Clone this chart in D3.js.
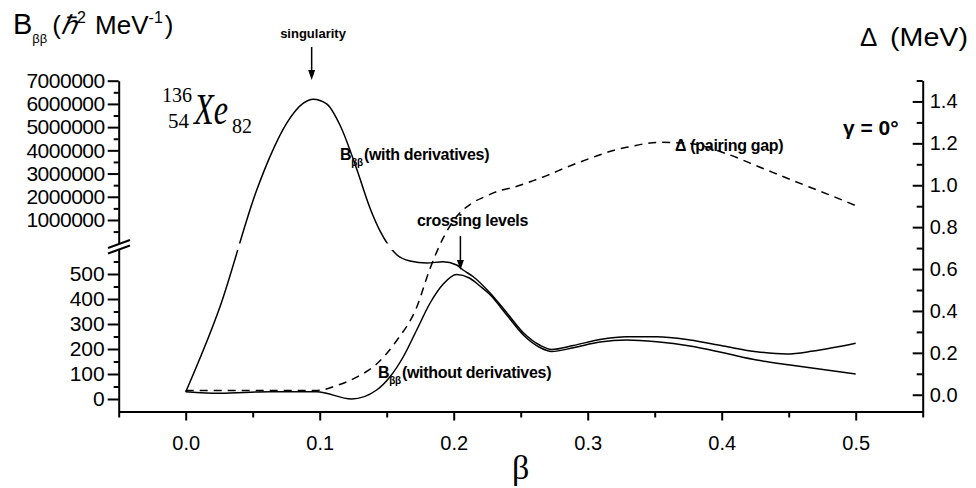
<!DOCTYPE html>
<html>
<head>
<meta charset="utf-8">
<script src="https://cdn.jsdelivr.net/npm/d3@7"></script>
<style>
body { margin: 0; background: #fff; }
svg text { font-family: "Liberation Sans", Arial, sans-serif; fill: #000; }
svg .serif { font-family: "Liberation Serif", "Times New Roman", serif; }
</style>
</head>
<body>
<script>
// B_bb with derivatives (lower part in units, upper part up to the singularity)
var betaWith = [0, 0.0256, 0.053, 0.0629, 0.0754, 0.0878, 0.0952, 0.1052, 0.1151, 0.1271, 0.1375, 0.145,
    0.1577, 0.1674, 0.18, 0.192, 0.2022, 0.207, 0.2144, 0.227, 0.2396, 0.252, 0.2647, 0.2731, 0.2893,
    0.3092, 0.329, 0.3515, 0.3763, 0.4012, 0.4261, 0.4485, 0.4684, 0.5];
var bWith = [28, 369, 2290000, 3730000, 5170000, 6030000, 6200000, 6000000, 5090000, 3280000, 1520000, 530000,
    576, 552, 544, 549, 536, 516, 490, 425, 345, 265, 214, 198, 214,
    238, 249, 249, 236, 212, 189, 180, 192, 223];

// B_bb without derivatives
var betaWithout = [0, 0.0254, 0.0628, 0.0977, 0.1238, 0.1425, 0.1525, 0.1624, 0.1724, 0.1823, 0.1922, 0.2022,
    0.2117, 0.2196, 0.227, 0.2396, 0.252, 0.2647, 0.2731, 0.2893, 0.3092, 0.329, 0.3515, 0.3763, 0.4012,
    0.4261, 0.451, 0.5];
var bWithout = [29, 23, 29, 29, 0, 36, 89, 169, 276, 383, 460, 498,
    484, 452, 418, 336, 256, 205, 190, 205, 228, 236, 229, 212, 185,
    156, 136, 100];

// pairing gap (MeV), right axis
var betaGap = [0, 0.0975, 0.1127, 0.1276, 0.1425, 0.1575, 0.1724, 0.1823, 0.192, 0.2022, 0.2121, 0.2234,
    0.2346, 0.2445, 0.2594, 0.2694, 0.2843, 0.3042, 0.3191, 0.3291, 0.354, 0.3764, 0.4037, 0.4286,
    0.4534, 0.4784, 0.5];
var gapValues = [0.02, 0.02, 0.044, 0.084, 0.147, 0.259, 0.418, 0.602, 0.746, 0.851, 0.908, 0.946,
    0.975, 0.99, 1.022, 1.046, 1.086, 1.134, 1.166, 1.181, 1.205, 1.199, 1.15, 1.086,
    1.022, 0.959, 0.903];

// tick values
var xTickValues = [0, 0.1, 0.2, 0.3, 0.4, 0.5];
var xMinorTicks = [-0.05, 0.05, 0.15, 0.25, 0.35, 0.45, 0.55];
var lowTicks = [0, 100, 200, 300, 400, 500];
var lowMinorTicks = [50, 150, 250, 350, 450, 550];
var highTicks = [1000000, 2000000, 3000000, 4000000, 5000000, 6000000, 7000000];
var highMinorTicks = [500000, 1500000, 2500000, 3500000, 4500000, 5500000, 6500000];
var gapTicks = [0, 0.2, 0.4, 0.6, 0.8, 1.0, 1.2, 1.4];
var gapMinorTicks = [0.1, 0.3, 0.5, 0.7, 0.9, 1.1, 1.3, 1.5];

var svg = d3.select("body").append("svg")
    .attr("width", 976)
    .attr("height", 488);

var x = d3.scaleLinear().domain([-0.05, 0.55]).range([118.7, 922.7]);
//broken left axis: two linear pieces
var yLow = d3.scaleLinear().domain([-50, 598]).range([411.5, 249.5]);
var yHigh = d3.scaleLinear().domain([0, 7000000]).range([243.2, 80.7]);
var yGap = d3.scaleLinear().domain([-0.08, 1.5]).range([411.5, 80.5]);

function yB(v) {
    if (v <= 598) {
        return yLow(v);
    }
    return yHigh(v);
}

function styleAxis(g, size) {
    g.attr("font-family", "Liberation Sans, Arial, sans-serif")
        .attr("font-size", size);
    g.selectAll("path, line")
        .attr("stroke", "#000")
        .attr("stroke-width", 2);
}

function minor(axis, translate) {
    var g = svg.append("g")
        .attr("transform", translate)
        .call(axis.tickFormat(""));
    g.select(".domain").remove();
    styleAxis(g, 20);
}

// bottom axis
var gx = svg.append("g")
    .attr("transform", "translate(0,411.5)")
    .call(d3.axisBottom(x).tickValues(xTickValues).tickSize(9).tickSizeOuter(0)
        .tickPadding(15).tickFormat(d3.format(".1f")));
styleAxis(gx, 20);
minor(d3.axisBottom(x).tickValues(xMinorTicks).tickSize(6), "translate(0,411.5)");

// left axis, lower piece
var gl = svg.append("g")
    .attr("transform", "translate(118.7,0)")
    .call(d3.axisLeft(yLow).tickValues(lowTicks).tickSize(11).tickSizeOuter(0)
        .tickPadding(3).tickFormat(d3.format("d")));
styleAxis(gl, 21);
minor(d3.axisLeft(yLow).tickValues(lowMinorTicks).tickSize(5), "translate(118.7,0)");

// left axis, upper piece
var gh = svg.append("g")
    .attr("transform", "translate(118.7,0)")
    .call(d3.axisLeft(yHigh).tickValues(highTicks).tickSize(11).tickSizeOuter(0)
        .tickPadding(3).tickFormat(d3.format("d")));
styleAxis(gh, 21);
gh.selectAll("text").attr("letter-spacing", -0.5);
minor(d3.axisLeft(yHigh).tickValues(highMinorTicks).tickSize(5), "translate(118.7,0)");

// break marks
svg.selectAll(".brk")
    .data([0, 5.5])
    .enter()
    .append("line")
    .attr("class", "brk")
    .attr("x1", 108).attr("x2", 130)
    .attr("y1", function(d) { return 248 + d; })
    .attr("y2", function(d) { return 240 + d; })
    .attr("stroke", "#000")
    .attr("stroke-width", 2);

// right axis
var gr = svg.append("g")
    .attr("transform", "translate(922.7,0)")
    .call(d3.axisRight(yGap).tickValues(gapTicks).tickSize(-10).tickSizeOuter(0)
        .tickPadding(7).tickFormat(d3.format(".1f")));
styleAxis(gr, 20);
minor(d3.axisRight(yGap).tickValues(gapMinorTicks).tickSize(-6), "translate(922.7,0)");

// curves, clipped at the axis break
var clip = svg.append("clipPath").attr("id", "brk-clip");
clip.append("rect").attr("x", 0).attr("y", 0).attr("width", 976).attr("height", 243.5);
clip.append("rect").attr("x", 0).attr("y", 250).attr("width", 976).attr("height", 238);

var lineB = d3.line()
    .x(function(d) { return x(d[0]); })
    .y(function(d) { return yB(d[1]); })
    .curve(d3.curveMonotoneX);

var lineGap = d3.line()
    .x(function(d) { return x(d[0]); })
    .y(function(d) { return yGap(d[1]); })
    .curve(d3.curveMonotoneX);

svg.selectAll(".bcurve")
    .data([d3.zip(betaWith, bWith), d3.zip(betaWithout, bWithout)])
    .enter()
    .append("path")
    .attr("class", "bcurve")
    .attr("clip-path", "url(#brk-clip)")
    .attr("d", lineB)
    .attr("fill", "none")
    .attr("stroke", "#000")
    .attr("stroke-width", 1.5);

svg.append("path")
    .datum(d3.zip(betaGap, gapValues))
    .attr("d", lineGap)
    .attr("fill", "none")
    .attr("stroke", "#000")
    .attr("stroke-width", 1.5)
    .attr("stroke-dasharray", "8,6");

// arrows
function arrow(xp, y1, y2) {
    svg.append("line")
        .attr("x1", xp).attr("x2", xp)
        .attr("y1", y1).attr("y2", y2 - 6)
        .attr("stroke", "#000").attr("stroke-width", 1.5);
    svg.append("path")
        .attr("d", "M" + (xp - 3.5) + "," + (y2 - 10) + "L" + (xp + 3.5) + "," + (y2 - 10) + "L" + xp + "," + y2 + "Z")
        .attr("fill", "#000");
}
arrow(x(0.094), 47, 80);
arrow(x(0.205), 236, 270);

// annotations
svg.append("text")
    .attr("x", x(0.095)).attr("y", 38)
    .attr("text-anchor", "middle")
    .attr("font-size", 13).attr("font-weight", "bold")
    .text("singularity");

svg.append("text")
    .attr("x", x(0.214)).attr("y", 226)
    .attr("text-anchor", "middle")
    .attr("font-size", 16).attr("font-weight", "bold")
    .attr("letter-spacing", -0.3)
    .text("crossing levels");

function bLabel(xp, yp, rest) {
    var t = svg.append("text")
        .attr("x", xp).attr("y", yp)
        .attr("font-size", 16).attr("font-weight", "bold")
        .attr("letter-spacing", -0.3);
    t.append("tspan").text("B");
    t.append("tspan").attr("font-size", 10).attr("dy", 6).text("ββ");
    t.append("tspan").attr("dy", -6).attr("dx", 1).text(rest);
}
bLabel(340, 160, "(with derivatives)");
bLabel(378, 378, "(without derivatives)");

svg.append("text")
    .attr("x", 675).attr("y", 151)
    .attr("font-size", 16).attr("font-weight", "bold")
    .attr("letter-spacing", -0.3)
    .text("Δ (pairing gap)");

svg.append("text")
    .attr("x", 843).attr("y", 135)
    .attr("font-size", 21).attr("font-weight", "bold")
    .text("γ = 0°");

// axis titles
var tl = svg.append("text").attr("x", 13).attr("y", 34).attr("font-size", 26);
tl.append("tspan").attr("font-size", 29).text("B");
tl.append("tspan").attr("font-size", 13).attr("dy", 9).text("ββ");
tl.append("tspan").attr("dy", -9).attr("dx", 5).text("(");
tl.append("tspan").attr("font-style", "italic").text("ℏ");
tl.append("tspan").attr("font-size", 16).attr("dy", -11).text("2");
tl.append("tspan").attr("dy", 11).attr("dx", 2).text(" MeV");
tl.append("tspan").attr("font-size", 16).attr("dy", -11).text("-1");
tl.append("tspan").attr("dy", 11).attr("dx", 2).text(")");

svg.append("text")
    .attr("x", 860).attr("y", 46)
    .attr("font-size", 26)
    .text("Δ");
svg.append("text")
    .attr("x", 890).attr("y", 46)
    .attr("font-size", 26)
    .attr("textLength", 78).attr("lengthAdjust", "spacingAndGlyphs")
    .text("(MeV)");

svg.append("text")
    .attr("class", "serif")
    .attr("x", x(0.25)).attr("y", 479)
    .attr("text-anchor", "middle")
    .attr("font-size", 34)
    .text("β");

// nucleus label
svg.append("text").attr("class", "serif").attr("x", 162).attr("y", 102).attr("font-size", 22)
    .attr("textLength", 30).attr("lengthAdjust", "spacingAndGlyphs").text("136");
svg.append("text").attr("class", "serif").attr("x", 168).attr("y", 128).attr("font-size", 22)
    .attr("textLength", 21).attr("lengthAdjust", "spacingAndGlyphs").text("54");
svg.append("text").attr("class", "serif").attr("x", 194).attr("y", 124)
    .attr("font-size", 44).attr("font-style", "italic")
    .attr("textLength", 34).attr("lengthAdjust", "spacingAndGlyphs")
    .text("Xe");
svg.append("text").attr("class", "serif").attr("x", 232).attr("y", 133).attr("font-size", 22)
    .attr("textLength", 20).attr("lengthAdjust", "spacingAndGlyphs").text("82");
</script>
</body>
</html>
